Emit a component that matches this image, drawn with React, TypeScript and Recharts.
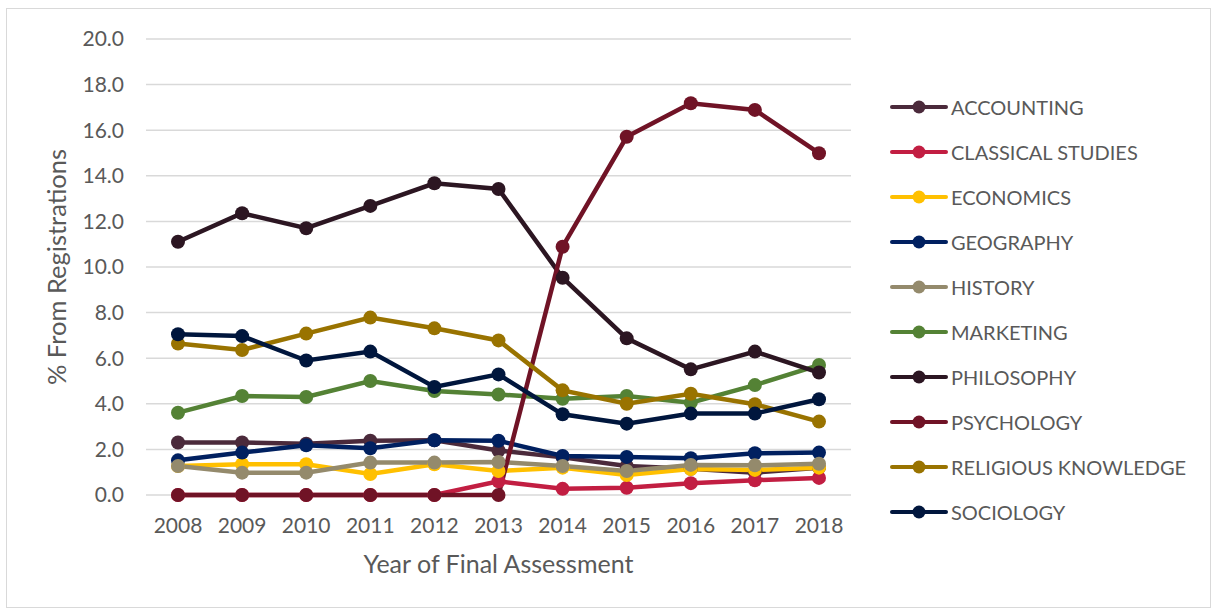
import React from 'react';
import { LineChart, Line, XAxis, YAxis, CartesianGrid } from 'recharts';

// values
const years = ['2008', '2009', '2010', '2011', '2012', '2013', '2014', '2015', '2016', '2017', '2018'];
const yTicks = [0, 2, 4, 6, 8, 10, 12, 14, 16, 18, 20];

const accounting = [2.3, 2.3, 2.25, 2.38, 2.4, 1.95, 1.65, 1.27, 1.15, 0.98, 1.2];
const classicalStudies = [0, 0, 0, 0, 0, 0.6, 0.27, 0.32, 0.52, 0.65, 0.75];
const economics = [1.27, 1.35, 1.35, 0.92, 1.35, 1.05, 1.2, 0.88, 1.14, 1.1, 1.2];
const geography = [1.52, 1.86, 2.18, 2.05, 2.4, 2.38, 1.71, 1.67, 1.61, 1.83, 1.86];
const history = [1.27, 0.98, 0.98, 1.42, 1.42, 1.45, 1.27, 1.05, 1.32, 1.3, 1.37];
const marketing = [3.61, 4.34, 4.3, 5.0, 4.56, 4.41, 4.22, 4.34, 4.05, 4.82, 5.7];
const philosophy = [11.11, 12.36, 11.7, 12.68, 13.67, 13.42, 9.53, 6.87, 5.51, 6.29, 5.37];
const psychology = [0, 0, 0, 0, 0, 0, 10.89, 15.71, 17.18, 16.89, 14.99];
const religiousKnowledge = [6.64, 6.36, 7.08, 7.78, 7.31, 6.78, 4.59, 4.0, 4.44, 3.98, 3.22];
const sociology = [7.05, 6.97, 5.9, 6.29, 4.74, 5.29, 3.54, 3.13, 3.57, 3.57, 4.2];

const series = [
  { key: 'accounting', name: 'ACCOUNTING', color: '#4B2A3B', values: accounting },
  { key: 'classical', name: 'CLASSICAL STUDIES', color: '#C21E42', values: classicalStudies },
  { key: 'economics', name: 'ECONOMICS', color: '#FFC000', values: economics },
  { key: 'geography', name: 'GEOGRAPHY', color: '#002060', values: geography },
  { key: 'history', name: 'HISTORY', color: '#948A6C', values: history },
  { key: 'marketing', name: 'MARKETING', color: '#548235', values: marketing },
  { key: 'philosophy', name: 'PHILOSOPHY', color: '#2C1622', values: philosophy },
  { key: 'psychology', name: 'PSYCHOLOGY', color: '#701326', values: psychology },
  { key: 'religious', name: 'RELIGIOUS KNOWLEDGE', color: '#997300', values: religiousKnowledge },
  { key: 'sociology', name: 'SOCIOLOGY', color: '#00163D', values: sociology },
];

const data = years.map((year, i) => {
  const row: Record<string, string | number> = { year };
  series.forEach((s) => {
    row[s.key] = s.values[i];
  });
  return row;
});

const FONT = 'Lato, "Open Sans", sans-serif';
const TEXT = '#595959';

const Legend = () => (
  <div style={{ position: 'absolute', left: 883, top: 75, fontFamily: FONT }}>
    {series.map((s) => (
      <div key={s.key} style={{ display: 'flex', alignItems: 'center', height: 45 }}>
        <svg width={60} height={20}>
          <line x1={2} y1={10} x2={56} y2={10} stroke={s.color} strokeWidth={4} strokeLinecap="round" />
          <circle cx={29} cy={10} r={6.5} fill={s.color} />
        </svg>
        <span style={{ fontSize: 20, color: TEXT, marginLeft: 1 }}>{s.name}</span>
      </div>
    ))}
  </div>
);

export default function App() {
  return (
    <div
      style={{
        position: 'absolute',
        left: 6,
        top: 8,
        width: 1205,
        height: 600,
        border: '1px solid #d9d9d9',
        background: '#fff',
        boxSizing: 'border-box',
      }}
    >
      <LineChart
        width={1205}
        height={598}
        data={data}
        margin={{ top: 30, right: 361, left: 0, bottom: 32 }}
        style={{ fontFamily: FONT }}
      >
        <CartesianGrid vertical={false} stroke="#d9d9d9" strokeWidth={1.5} />
        <XAxis
          dataKey="year"
          axisLine={false}
          tickLine={false}
          tickSize={0}
          tickMargin={23}
          height={80}
          padding={{ left: 32, right: 32 }}
          tick={{ fill: TEXT, fontSize: 21 }}
          label={{
            value: 'Year of Final Assessment',
            position: 'insideBottom',
            offset: 2,
            fill: TEXT,
            fontSize: 25,
          }}
        />
        <YAxis
          domain={[0, 20]}
          ticks={yTicks}
          width={139}
          axisLine={false}
          tickLine={false}
          tickSize={0}
          tickMargin={22}
          tickFormatter={(v: number) => v.toFixed(1)}
          tick={{ fill: TEXT, fontSize: 21 }}
          label={{
            value: '% From Registrations',
            angle: -90,
            position: 'insideLeft',
            offset: 50,
            textAnchor: 'middle',
            fill: TEXT,
            fontSize: 25.5,
          }}
        />
        {series.map((s) => (
          <Line
            key={s.key}
            dataKey={s.key}
            name={s.name}
            stroke={s.color}
            strokeWidth={4.5}
            dot={{ r: 7, fill: s.color, stroke: s.color, strokeWidth: 0 }}
            activeDot={false}
            isAnimationActive={false}
          />
        ))}
      </LineChart>
      <Legend />
    </div>
  );
}
